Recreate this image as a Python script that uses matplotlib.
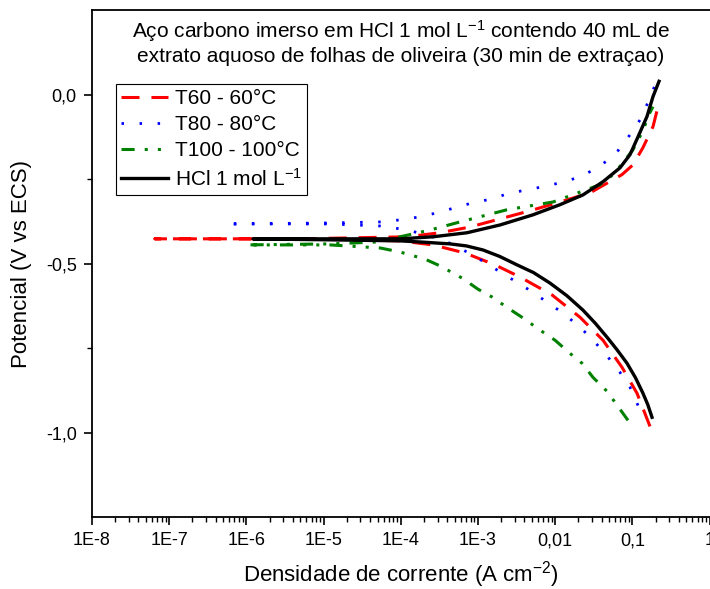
import numpy as np
import matplotlib
matplotlib.use('Agg')
import matplotlib.pyplot as plt
from matplotlib.ticker import FixedLocator, NullFormatter

plt.rcParams['font.family'] = ['Liberation Sans', 'DejaVu Sans']
plt.rcParams['mathtext.fontset'] = 'custom'
plt.rcParams['mathtext.rm'] = 'Liberation Sans'
plt.rcParams['mathtext.it'] = 'Liberation Sans:italic'
plt.rcParams['mathtext.bf'] = 'Liberation Sans:bold'

# ---------------- data (log10 of current density in A cm-2, potential in V vs ECS) ----------------
# T60 - 60 °C : cathodic branch (from bottom) then anodic branch
t60_log_i = [-0.772, -0.940, -1.135, -1.381, -1.679, -2.041, -2.456, -2.780, -3.168, -3.583,
             -4.010, -5.306, -7.184,
             -5.306, -3.920, -3.492, -3.104, -2.715, -2.326, -1.938, -1.549, -1.135, -0.992,
             -0.863, -0.733, -0.655]
t60_E = [-0.982, -0.884, -0.807, -0.727, -0.659, -0.593, -0.540, -0.504, -0.469, -0.445,
         -0.433, -0.427, -0.427,
         -0.427, -0.421, -0.409, -0.392, -0.368, -0.344, -0.318, -0.291, -0.237, -0.208,
         -0.157, -0.095, -0.024]

# T80 - 80 °C
t80_log_i = [-0.927, -1.031, -1.161, -1.316, -1.484, -1.679, -1.899, -2.106, -2.352, -2.585,
             -2.819, -3.065, -3.453, -3.907, -4.269, -4.917, -6.264,
             -4.917, -4.269, -4.010, -3.751, -3.531, -3.298, -3.065, -2.819, -2.585, -2.352,
             -2.106, -1.873, -1.640, -1.394, -1.186, -1.031, -0.889, -0.772, -0.681]
t80_E = [-0.920, -0.866, -0.822, -0.777, -0.733, -0.688, -0.647, -0.614, -0.576, -0.543,
         -0.510, -0.475, -0.430, -0.401, -0.389, -0.383, -0.383,
         -0.380, -0.377, -0.371, -0.362, -0.350, -0.335, -0.320, -0.309, -0.291, -0.282,
         -0.270, -0.258, -0.240, -0.208, -0.166, -0.119, -0.071, -0.009, 0.042]

# T100 - 100 °C
t100_log_i = [-1.057, -1.225, -1.316, -1.510, -1.653, -1.808, -2.002, -2.236, -2.391, -2.611,
              -2.819, -3.000, -3.207, -3.492, -3.687, -4.010, -4.269, -4.917, -5.992,
              -4.917, -4.269, -4.010, -3.622, -3.233, -2.624, -2.028, -1.420, -1.251, -1.122,
              -0.992, -0.876, -0.772, -0.733]
t100_E = [-0.964, -0.911, -0.881, -0.837, -0.795, -0.766, -0.727, -0.691, -0.665, -0.632,
          -0.599, -0.576, -0.543, -0.507, -0.487, -0.466, -0.454, -0.445, -0.445,
          -0.442, -0.436, -0.421, -0.401, -0.377, -0.341, -0.318, -0.267, -0.237, -0.202,
          -0.163, -0.113, -0.053, -0.036]

# HCl 1 mol L-1 (blank)
hcl_log_i = [-0.746, -0.800, -0.863, -0.960, -1.070, -1.200, -1.329, -1.480, -1.640, -1.850,
             -2.067, -2.280, -2.495, -2.720, -2.935, -3.150, -3.363, -3.700, -4.010,
             -4.917, -5.915,
             -4.917, -4.010, -3.583, -3.142, -2.715, -2.288, -1.938, -1.640, -1.381, -1.161,
             -1.031, -0.927, -0.811, -0.733, -0.655]
hcl_E = [-0.955, -0.918, -0.884, -0.838, -0.795, -0.755, -0.718, -0.677, -0.638, -0.595,
         -0.558, -0.527, -0.504, -0.479, -0.460, -0.448, -0.442, -0.437, -0.433,
         -0.430, -0.427,
         -0.427, -0.427, -0.421, -0.409, -0.386, -0.356, -0.326, -0.297, -0.258, -0.217,
         -0.178, -0.125, -0.065, -0.006, 0.039]

series_labels = ['T60 - 60°C', 'T80 - 80°C', 'T100 - 100°C', r'HCl 1 mol L$^{\mathregular{-1}}$']

x_tick_values = [1e-8, 1e-7, 1e-6, 1e-5, 1e-4, 1e-3, 1e-2, 1e-1, 1.0]
x_tick_labels = ['1E-8', '1E-7', '1E-6', '1E-5', '1E-4', '1E-3', '0,01', '0,1', '1']
y_tick_values = [0.0, -0.5, -1.0]
y_tick_labels = ['0,0', '-0,5', '-1,0']

title_text = ('Aço carbono imerso em HCl 1 mol L$^{\\mathregular{-1}}$ contendo 40 mL de\n'
              'extrato aquoso de folhas de oliveira (30 min de extraçao)')

# ---------------- figure ----------------
fig = plt.figure(figsize=(7.10, 5.89), dpi=100)
ax = fig.add_axes([92 / 710, 72 / 589, 618 / 710, 507 / 589])

ax.plot(10 ** np.array(t60_log_i), t60_E, color='#ff0000', lw=2.2,
        linestyle=(0, (5.9, 3.9)), label=series_labels[0])
ax.plot(10 ** np.array(t80_log_i), t80_E, color='#0000ff', lw=2.0,
        linestyle=(0, (0.9, 5.6)), label=series_labels[1])
ax.plot(10 ** np.array(t100_log_i), t100_E, color='#008000', lw=2.2,
        linestyle=(0, (4.3, 3.3, 1.0, 3.3, 1.0, 3.3)), label=series_labels[2])
ax.plot(10 ** np.array(hcl_log_i), hcl_E, color='black', lw=2.4,
        linestyle='-', label=series_labels[3])

ax.set_xscale('log')
ax.set_xlim(1e-8, 1.012)
ax.set_ylim(-1.25, 0.25)

ax.xaxis.set_major_locator(FixedLocator(x_tick_values))
ax.set_xticklabels(x_tick_labels)
minor = [m * 10.0 ** e for e in range(-8, 0) for m in range(2, 10)]
ax.xaxis.set_minor_locator(FixedLocator(minor))
ax.xaxis.set_minor_formatter(NullFormatter())

ax.yaxis.set_major_locator(FixedLocator(y_tick_values))
ax.set_yticklabels(y_tick_labels)
ax.yaxis.set_minor_locator(FixedLocator([-0.25, -0.75]))

ax.tick_params(axis='both', which='major', direction='out', length=6, width=1.2,
               labelsize=13, pad=5, top=False, right=False)
ax.tick_params(axis='both', which='minor', direction='out', length=3.5, width=1.0,
               top=False, right=False)

for side in ['left', 'bottom', 'top']:
    ax.spines[side].set_linewidth(1.3)
ax.spines['right'].set_visible(False)

ax.set_xlabel('Densidade de corrente (A cm$^{\\mathregular{-2}}$)', fontsize=16, labelpad=7)
ax.set_ylabel('Potencial (V vs ECS)', fontsize=16, labelpad=10)

ax.text(0.5, 0.985, title_text, transform=ax.transAxes, ha='center', va='top',
        fontsize=15, linespacing=1.2)

leg = ax.legend(loc='upper left', bbox_to_anchor=(0.0388, 0.854), fontsize=15,
                frameon=True, fancybox=False, edgecolor='black', framealpha=1,
                handlelength=2.26, handletextpad=0.32, labelspacing=0.34,
                borderpad=0.25, borderaxespad=0.0)
leg.get_frame().set_linewidth(0.8)

fig.savefig('out.png', dpi=100)
